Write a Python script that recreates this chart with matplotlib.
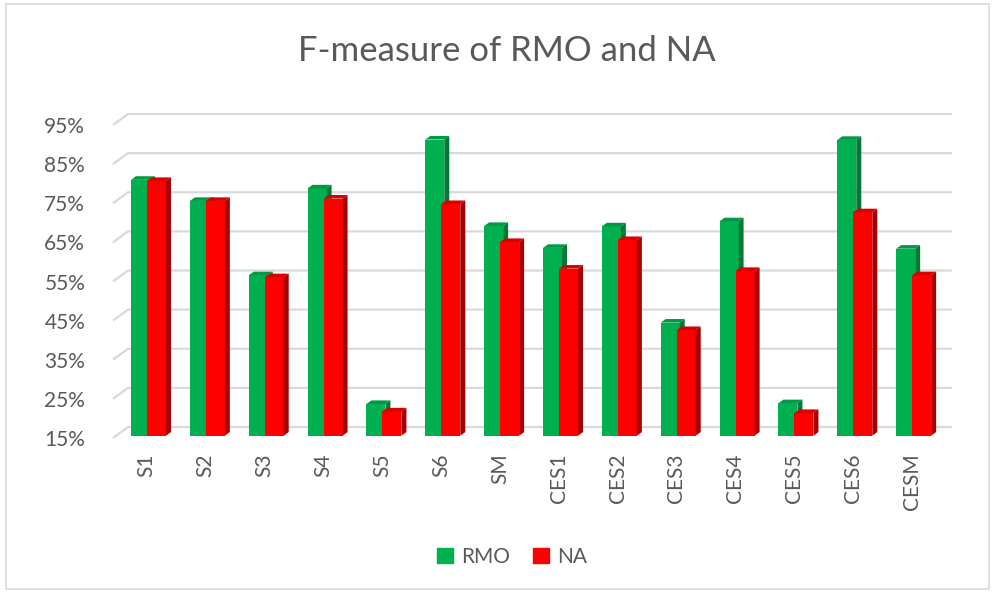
import matplotlib
matplotlib.use("Agg")
import matplotlib.pyplot as plt
from matplotlib.patches import Patch, Rectangle

plt.rcParams['font.family'] = ['Lato', 'DejaVu Sans']

categories = ["S1", "S2", "S3", "S4", "S5", "S6", "SM",
              "CES1", "CES2", "CES3", "CES4", "CES5", "CES6", "CESM"]
rmo = [80.4, 75.0, 56.0, 78.2, 23.1, 90.7, 68.6, 63.0, 68.5, 43.9, 69.8, 23.3, 90.6, 62.8]
na = [80.1, 75.0, 55.5, 75.6, 21.2, 74.2, 64.5, 57.7, 65.0, 42.0, 57.1, 20.8, 72.1, 56.0]
yticks = [15, 25, 35, 45, 55, 65, 75, 85, 95]
ytick_labels = [f"{v}%" for v in yticks]

W, H = 995, 593
fig = plt.figure(figsize=(W / 100, H / 100), dpi=100)
ax_l, ax_b, ax_w, ax_h = 113, 155, 824, 313
ax = fig.add_axes([ax_l / W, ax_b / H, ax_w / W, ax_h / H])
ax.set_xlim(0, len(categories))
ax.set_ylim(15, 95)
sx = len(categories) / ax_w
sy = 80 / ax_h

# depth offsets (pixels -> data)
DX, DY = 15 * sx, 11 * sy          # back wall
BX, BY = 3 * sx, 2.3 * sy          # bar front plane
PX, PY = 5 * sx, 3.6 * sy          # bar depth

grid_c = "#D9D9D9"
for v in yticks:
    ax.plot([0, DX, len(categories) + DX], [v, v + DY, v + DY],
            color=grid_c, lw=1.6, clip_on=False, zorder=1, solid_capstyle='butt')

bw = 19 * sx
colors = {
    "RMO": ("#00B050", "#009A45", "#007A36"),
    "NA": ("#FF0000", "#D90000", "#A80000"),
}
idx = list(range(len(categories)))
series = [("RMO", rmo, 15 * sx, 3), ("NA", na, 31 * sx, 4)]
for name, vals, off, z in series:
    front, top, side = colors[name]
    bars = ax.bar([i + off + BX for i in idx], [v - 15 for v in vals], width=bw,
                  bottom=15 + BY, align='edge', color=front, zorder=z,
                  clip_on=False, linewidth=0)
    for r in bars:
        x0, y0 = r.get_x(), r.get_y()
        x1, y1 = x0 + r.get_width(), y0 + r.get_height()
        ax.fill([x0, x1, x1 + PX, x0 + PX], [y1, y1, y1 + PY, y1 + PY],
                color=top, zorder=z, clip_on=False, lw=0)
        ax.fill([x1, x1 + PX, x1 + PX, x1], [y0, y0 + PY, y1 + PY, y1],
                color=side, zorder=z, clip_on=False, lw=0)

label_c = "#595959"
ax.set_yticks(yticks)
ax.set_yticklabels(ytick_labels, fontsize=15, color=label_c)
ax.set_xticks([i + 33.7 * sx for i in idx])
ax.set_xticklabels(categories, rotation=90, fontsize=15, color=label_c, va='top')
ax.tick_params(axis='both', length=0)
ax.tick_params(axis='y', pad=20)
ax.tick_params(axis='x', pad=11)
for s in ax.spines.values():
    s.set_visible(False)
ax.set_facecolor('none')

fig.text(507 / W, 1 - 51 / H, "F-measure of RMO and NA", ha='center', va='center',
         fontsize=25, color=label_c)

handles = [Patch(color=colors["RMO"][0], label="RMO"), Patch(color=colors["NA"][0], label="NA")]
fig.legend(handles=handles, loc='center', bbox_to_anchor=(512 / W, 1 - 557 / H), ncol=2,
           frameon=False, fontsize=15, labelcolor=label_c, handlelength=0.75,
           handleheight=0.75, handletextpad=0.4, columnspacing=1.1)

fig.patches.append(Rectangle((6 / W, 4 / H), 983 / W, 585 / H, transform=fig.transFigure,
                             fill=False, edgecolor="#D9D9D9", lw=1.2))

fig.savefig("out.png", dpi=100)
